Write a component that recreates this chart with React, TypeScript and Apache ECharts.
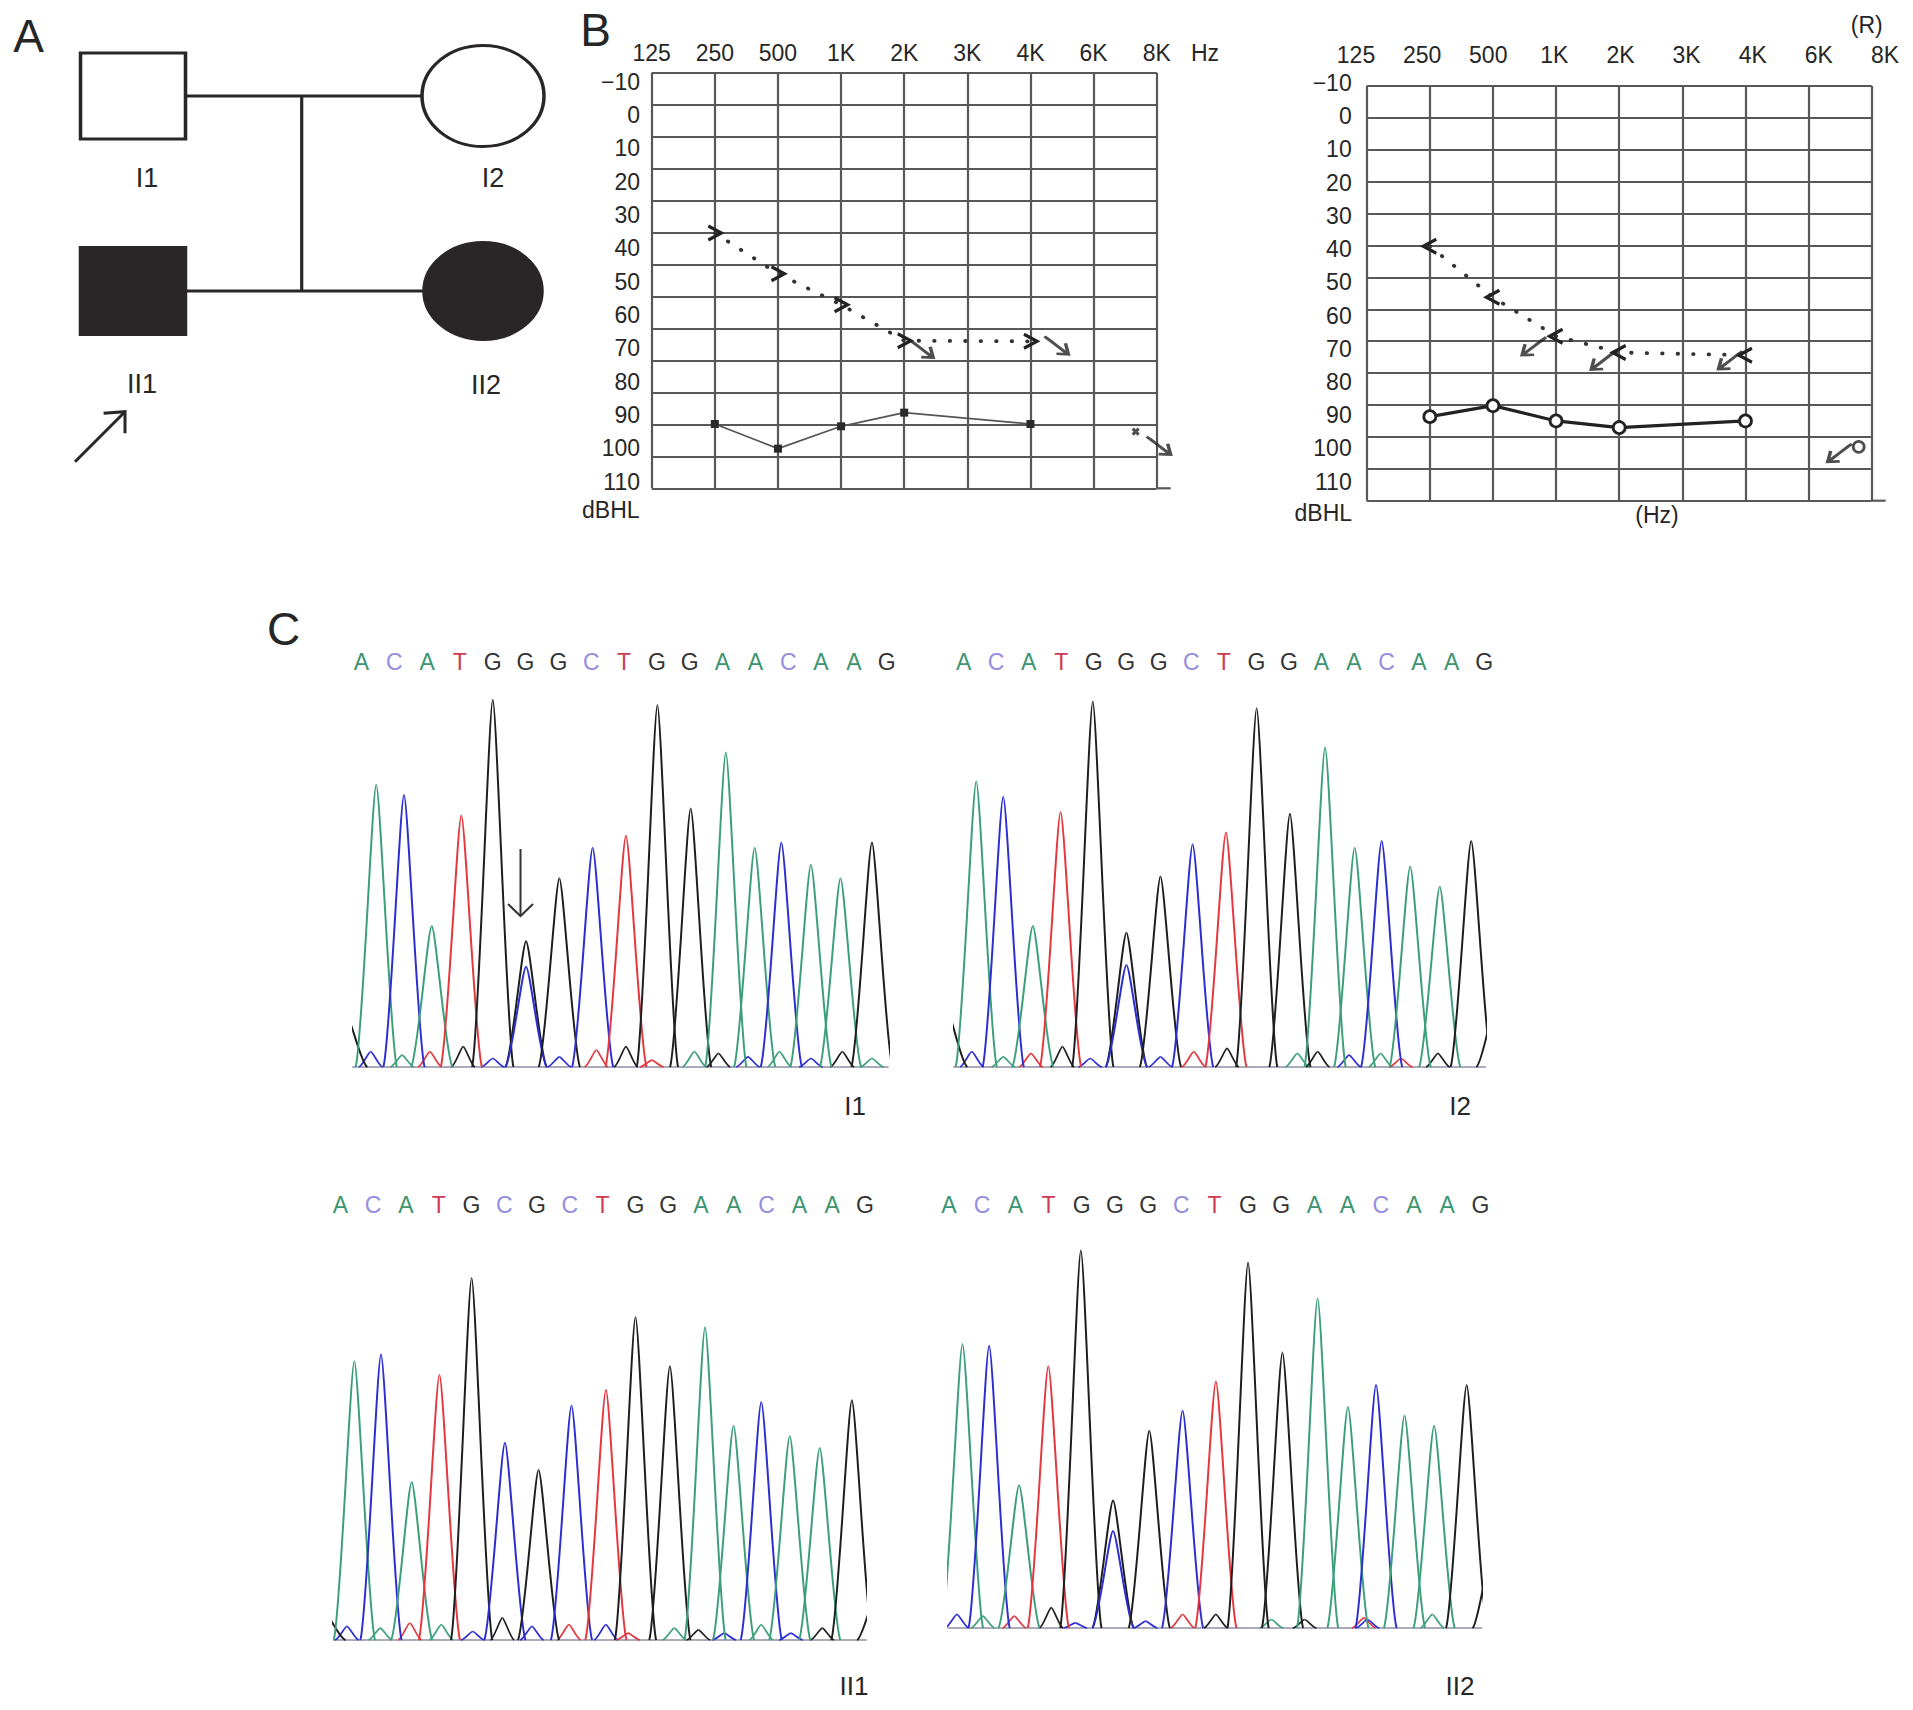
import React, { useEffect, useRef } from 'react';
import * as echarts from 'echarts';

const FONT = '"Liberation Sans", Arial, Helvetica, sans-serif';
const INK = '#2a2627';
const GRID_GRAY = '#585858';
const TEXT = '#262626';

// ---------------- A: pedigree ----------------
const pedNames = ['I1', 'I2', 'II1', 'II2'];
const pedColumn = [0, 1, 0, 1];
const pedGeneration = [1, 1, 2, 2];
const pedSex = ['M', 'F', 'M', 'F'];
const pedAffected = [false, false, true, true];
const pedDescentColumn = 0.482;

// ---------------- B: audiograms ----------------
const freqLabels = ['125', '250', '500', '1K', '2K', '3K', '4K', '6K', '8K'];
const dbLabelMin = -10;
const dbLabelMax = 110;
const dbLabelStep = 10;
const testedFreqIndex = [1, 2, 3, 4, 6];
const leftAir = [92.7, 100.1, 93.4, 89.3, 92.7];
const leftBone = [35.4, 47.6, 56.9, 67.7, 67.9];
const leftBoneNoResponse = [false, false, false, true, true];
const leftAir8kNoResponse = 95;
const rightAir = [90.4, 87.1, 91.7, 93.7, 91.7];
const rightBone = [39.1, 54.5, 66.2, 71.1, 71.9];
const rightBoneNoResponse = [false, false, true, true, true];
const rightAir8kNoResponse = 99.5;

// ---------------- C: chromatograms ----------------
const seqI1 = ['A', 'C', 'A', 'T', 'G', 'G', 'G', 'C', 'T', 'G', 'G', 'A', 'A', 'C', 'A', 'A', 'G'];
const seqI2 = ['A', 'C', 'A', 'T', 'G', 'G', 'G', 'C', 'T', 'G', 'G', 'A', 'A', 'C', 'A', 'A', 'G'];
const seqII1 = ['A', 'C', 'A', 'T', 'G', 'C', 'G', 'C', 'T', 'G', 'G', 'A', 'A', 'C', 'A', 'A', 'G'];
const seqII2 = ['A', 'C', 'A', 'T', 'G', 'G', 'G', 'C', 'T', 'G', 'G', 'A', 'A', 'C', 'A', 'A', 'G'];

const peakPosI1 = [45, 125, 200, 275, 355, 440, 530, 530, 620, 710, 800, 885, 975, 1070, 1148, 1220, 1300, 1380, 1465];
const peakHeightI1 = [150, 830, 800, 415, 740, 1080, 370, 295, 555, 645, 680, 1065, 760, 925, 645, 660, 595, 555, 660];
const peakBaseI1 = ['G', 'A', 'C', 'A', 'T', 'G', 'G', 'C', 'G', 'C', 'T', 'G', 'G', 'A', 'A', 'C', 'A', 'A', 'G'];
const noisePosI1 = [110, 195, 270, 360, 440, 620, 720, 800, 870, 985, 1050, 1130, 1215, 1300, 1385, 1465];
const noiseHeightI1 = [45, 35, 45, 60, 25, 30, 50, 60, 20, 45, 40, 30, 45, 25, 45, 25];
const noiseBaseI1 = ['C', 'A', 'T', 'G', 'C', 'C', 'T', 'G', 'T', 'A', 'G', 'C', 'A', 'C', 'G', 'A'];

const peakPosI2 = [72, 152, 225, 305, 380, 467, 558, 558, 650, 737, 827, 910, 1000, 1095, 1175, 1248, 1325, 1405, 1490, 1560];
const peakHeightI2 = [170, 840, 795, 415, 750, 1075, 395, 300, 560, 655, 690, 1055, 745, 940, 645, 665, 590, 530, 665, 200];
const peakBaseI2 = ['G', 'A', 'C', 'A', 'T', 'G', 'G', 'C', 'G', 'C', 'T', 'G', 'G', 'A', 'A', 'C', 'A', 'A', 'G', 'G'];
const noisePosI2 = [140, 225, 300, 385, 460, 650, 740, 830, 1020, 1075, 1160, 1245, 1300, 1400];
const noiseHeightI2 = [45, 30, 40, 60, 25, 30, 45, 55, 40, 45, 35, 40, 25, 40];
const noiseBaseI2 = ['C', 'A', 'T', 'G', 'C', 'C', 'T', 'G', 'A', 'G', 'C', 'A', 'T', 'G'];

const peakPosII1 = [40, 120, 192, 275, 350, 437, 527, 618, 707, 800, 880, 973, 1068, 1145, 1220, 1297, 1378, 1465, 1535];
const peakHeightII1 = [80, 820, 840, 465, 780, 1065, 580, 500, 690, 735, 950, 805, 920, 630, 700, 600, 565, 705, 150];
const peakBaseII1 = ['G', 'A', 'C', 'A', 'T', 'G', 'C', 'G', 'C', 'T', 'G', 'G', 'A', 'A', 'C', 'A', 'A', 'G', 'G'];
const noisePosII1 = [100, 190, 270, 355, 440, 520, 600, 700, 800, 860, 985, 1050, 1120, 1220, 1300, 1385];
const noiseHeightII1 = [40, 35, 50, 45, 25, 65, 40, 45, 45, 20, 35, 30, 20, 45, 20, 35];
const noiseBaseII1 = ['C', 'A', 'T', 'A', 'C', 'G', 'C', 'T', 'C', 'T', 'A', 'G', 'C', 'A', 'C', 'G'];

const peakPosII2 = [115, 187, 268, 347, 435, 522, 522, 620, 710, 800, 887, 980, 1075, 1157, 1233, 1310, 1390, 1478, 1550];
const peakHeightII2 = [835, 830, 420, 770, 1110, 375, 285, 580, 640, 725, 1075, 810, 970, 650, 715, 625, 595, 715, 250];
const peakBaseII2 = ['A', 'C', 'A', 'T', 'G', 'G', 'C', 'G', 'C', 'T', 'G', 'G', 'A', 'A', 'C', 'A', 'A', 'G', 'G'];
const noisePosII2 = [100, 170, 255, 355, 420, 610, 710, 800, 950, 1040, 1200, 1210, 1385];
const noiseHeightII2 = [40, 35, 35, 60, 15, 20, 40, 40, 25, 25, 30, 25, 40];
const noiseBaseII2 = ['C', 'A', 'T', 'G', 'C', 'C', 'T', 'G', 'A', 'G', 'T', 'C', 'A'];

// ---------------- styles / layout ----------------
const BASE_INDEX: Record<string, number> = { A: 0, C: 1, G: 2, T: 3 };
const TRACE_COLORS = ['#3d9f7a', '#2c2ed2', '#1e1e1e', '#e4383f'];
const LETTER_COLORS: Record<string, string> = { A: '#3c9470', C: '#958ee0', G: '#333333', T: '#cf3a50' };

const CHEV_R = 'path://M0,0 L13,7 L0,14';
const CHEV_L = 'path://M13,0 L0,7 L13,14';
const ARROW_DR = 'path://M0,0 L24,18 M3,2 L21,16 M12,17.5 L24,18 L21,7';
const ARROW_DL = 'path://M24,0 L0,18 M21,2 L3,16 M3,7 L0,18 L12,17.5';
const CROSS = 'path://M0,0 L6,6 M0,6 L6,0';
const ELLIPSE = 'path://M0,50 A50,50 0 1 1 100,50 A50,50 0 1 1 0,50 Z';

const pedStyle: Record<string, { size: number[]; dist: number; dx: number }> = {
  I1: { size: [105, 86], dist: 24, dx: 14 },
  I2: { size: [122, 101], dist: 17, dx: 10 },
  II1: { size: [105, 87], dist: 35, dx: 9 },
  II2: { size: [118, 97], dist: 31, dx: 3 },
};

const AUD_L = {
  left: 651.7, top: 72.7, width: 505, height: 415.6, yMin: -12.7, yMax: 112,
  labTop: 81.7, labH: 400, labMargin: 11.7,
  arrowOffsets: { 4: [17, 8], 6: [26, 4] } as Record<number, number[]>,
  mark8kOffset: [-21, 0], arrow8kOffset: [2, 14],
};
const AUD_R = {
  left: 1366.7, top: 86, width: 505, height: 414.7, yMin: -9.1, yMax: 115.7,
  labTop: 83, labH: 398.7, labMargin: 15,
  arrowOffsets: { 3: [-22, 10], 4: [-16, 8], 6: [-15, 5] } as Record<number, number[]>,
  mark8kOffset: [-13, 0], arrow8kOffset: [-32, 6],
};

const PANELS = [
  { name: 'I1', seq: seqI1, pos: peakPosI1, h: peakHeightI1, base: peakBaseI1, nPos: noisePosI1, nH: noiseHeightI1, nBase: noiseBaseI1,
    scanStart: 60, scanEnd: 1510, left: 352.2, right: 888.6, baseline: 1067, letterLeft: 361.4, letterRight: 886.7, letterY: 662, labelX: 855, labelY: 1106 },
  { name: 'I2', seq: seqI2, pos: peakPosI2, h: peakHeightI2, base: peakBaseI2, nPos: noisePosI2, nH: noiseHeightI2, nBase: noiseBaseI2,
    scanStart: 90, scanEnd: 1530, left: 953.3, right: 1486, baseline: 1067, letterLeft: 963.6, letterRight: 1484.1, letterY: 662, labelX: 1460, labelY: 1106 },
  { name: 'II1', seq: seqII1, pos: peakPosII1, h: peakHeightII1, base: peakBaseII1, nPos: noisePosII1, nH: noiseHeightII1, nBase: noiseBaseII1,
    scanStart: 62, scanEnd: 1505, left: 332.9, right: 866.7, baseline: 1640, letterLeft: 340.3, letterRight: 864.9, letterY: 1205, labelX: 854, labelY: 1686 },
  { name: 'II2', seq: seqII2, pos: peakPosII2, h: peakHeightII2, base: peakBaseII2, nPos: noisePosII2, nH: noiseHeightII2, nBase: noiseBaseII2,
    scanStart: 75, scanEnd: 1520, left: 947.7, right: 1482.2, baseline: 1628, letterLeft: 948.9, letterRight: 1480.4, letterY: 1205, labelX: 1460, labelY: 1686 },
];
const TRACE_PX_PER_UNIT = 0.34;
const TRACE_YMAX = 1200;
const TRACE_YMIN = -20;

function peakRenderer(halfWidth: number, lineWidth: number) {
  return function (_params: any, api: any) {
    const x = api.value(0);
    const h = api.value(1);
    const b = api.value(2);
    const c = (px: number, py: number) => api.coord([px, py]);
    const a0 = c(x - halfWidth, 0);
    const a1 = c(x - halfWidth * 0.7, h * 0.05);
    const a2 = c(x - halfWidth * 0.18, h);
    const top = c(x, h);
    const b1 = c(x + halfWidth * 0.18, h);
    const b2 = c(x + halfWidth * 0.7, h * 0.05);
    const b3 = c(x + halfWidth, 0);
    const style = { stroke: TRACE_COLORS[b], fill: 'none', lineWidth };
    return {
      type: 'group',
      children: [
        { type: 'bezierCurve', shape: { x1: a0[0], y1: a0[1], cpx1: a1[0], cpy1: a1[1], cpx2: a2[0], cpy2: a2[1], x2: top[0], y2: top[1] }, style },
        { type: 'bezierCurve', shape: { x1: top[0], y1: top[1], cpx1: b1[0], cpy1: b1[1], cpx2: b2[0], cpy2: b2[1], x2: b3[0], y2: b3[1] }, style },
      ],
    };
  };
}

function buildOption() {
  const grid: any[] = [];
  const xAxis: any[] = [];
  const yAxis: any[] = [];
  const series: any[] = [];
  const graphic: any[] = [];

  const addGrid = (g: any) => { grid.push({ outerBoundsMode: 'none', containLabel: false, ...g }); return grid.length - 1; };
  const addX = (a: any) => { xAxis.push(a); return xAxis.length - 1; };
  const addY = (a: any) => { yAxis.push(a); return yAxis.length - 1; };
  const hidden = (gridIndex: number, min: number, max: number, extra: any = {}) => ({ type: 'value', gridIndex, min, max, show: false, ...extra });
  const txt = (t: string, x: number, y: number, size: number, extra: any = {}) => ({
    type: 'text', x, y, silent: true, z: 10,
    style: { text: t, fill: TEXT, fontSize: size, fontFamily: FONT, align: 'center', verticalAlign: 'middle', textAlign: 'center', textVerticalAlign: 'middle', ...extra },
  });
  const seg = (x1: number, y1: number, x2: number, y2: number, color: string, w: number) => ({
    type: 'line', silent: true, z: 10, shape: { x1, y1, x2, y2 }, style: { stroke: color, lineWidth: w },
  });
  const labelStyle = { fontSize: 23, color: TEXT, fontFamily: FONT };

  // ---------- A: pedigree ----------
  const gP = addGrid({ left: 133, top: 96, width: 350, height: 195 });
  const xP = addX(hidden(gP, 0, 1));
  const yP = addY(hidden(gP, 1, 2, { inverse: true }));
  const pedLine = (data: number[][]) => ({
    type: 'line', xAxisIndex: xP, yAxisIndex: yP, data, symbol: 'none', clip: false, silent: true, z: 1,
    lineStyle: { color: INK, width: 3.2 },
  });
  series.push(pedLine([[pedColumn[0], pedGeneration[0]], [pedColumn[1], pedGeneration[1]]]));
  series.push(pedLine([[pedColumn[2], pedGeneration[2]], [pedColumn[3], pedGeneration[3]]]));
  series.push(pedLine([[pedDescentColumn, pedGeneration[0]], [pedDescentColumn, pedGeneration[2]]]));
  series.push({
    type: 'scatter', xAxisIndex: xP, yAxisIndex: yP, clip: false, silent: true, z: 3,
    data: pedNames.map((n, i) => ({
      name: n,
      value: [pedColumn[i], pedGeneration[i]],
      symbol: pedSex[i] === 'M' ? 'rect' : ELLIPSE,
      symbolSize: pedStyle[n].size,
      itemStyle: { color: pedAffected[i] ? INK : '#ffffff', borderColor: INK, borderWidth: 3.2, opacity: 1 },
      label: {
        show: true, position: 'bottom', distance: pedStyle[n].dist, offset: [pedStyle[n].dx, 0],
        formatter: '{b}', fontSize: 27, color: TEXT, fontFamily: FONT,
      },
    })),
  });
  graphic.push(txt('A', 28.5, 36, 46));
  graphic.push(seg(75, 461.7, 125, 411.7, INK, 3));
  graphic.push({ type: 'polyline', silent: true, z: 10, shape: { points: [[103.6, 413.3], [125, 411.7], [125, 433.3]] }, style: { stroke: INK, lineWidth: 3, fill: 'none' } });

  // ---------- B: audiograms ----------
  const addAudiogram = (L: any, side: 'L' | 'R', air: number[], bone: number[], boneNR: boolean[], air8k: number) => {
    const gMain = addGrid({ left: L.left, top: L.top, width: L.width, height: L.height });
    const xMain = addX({
      type: 'value', gridIndex: gMain, min: 0, max: 8, interval: 1, position: 'top',
      axisLine: { show: false }, axisTick: { show: false },
      axisLabel: side === 'L'
        ? { show: true, margin: 19.4, verticalAlign: 'middle', showMinLabel: true, showMaxLabel: true, hideOverlap: false,
            formatter: (v: number) => freqLabels[Math.round(v)], ...labelStyle }
        : { show: false },
      splitLine: { show: true, showMinLine: true, showMaxLine: true, lineStyle: { color: GRID_GRAY, width: 2.2 } },
    });
    const yData = addY(hidden(gMain, L.yMin, L.yMax, { inverse: true }));
    addY({
      type: 'value', gridIndex: gMain, min: 0, max: 13, interval: 1, position: 'right',
      axisLine: { show: false }, axisTick: { show: false }, axisLabel: { show: false },
      splitLine: { show: true, showMinLine: true, showMaxLine: true, lineStyle: { color: GRID_GRAY, width: 2.2 } },
    });
    // y labels
    const gLab = addGrid({ left: L.left, top: L.labTop, width: L.width, height: L.labH });
    addX(hidden(gLab, 0, 1));
    addY({
      type: 'value', gridIndex: gLab, min: dbLabelMin, max: dbLabelMax, interval: dbLabelStep, inverse: true,
      axisLine: { show: false }, axisTick: { show: false }, splitLine: { show: false },
      axisLabel: { show: true, margin: L.labMargin, showMinLabel: true, showMaxLabel: true, hideOverlap: false,
        formatter: (v: number) => (v < 0 ? '\u2212' + Math.abs(v) : String(v)), ...labelStyle },
    });
    if (side === 'R') {
      const gX = addGrid({ left: 1356, top: L.top, width: 529, height: L.height });
      addX({
        type: 'value', gridIndex: gX, min: 0, max: 8, interval: 1, position: 'top',
        axisLine: { show: false }, axisTick: { show: false }, splitLine: { show: false },
        axisLabel: { show: true, margin: 31, verticalAlign: 'middle', showMinLabel: true, showMaxLabel: true, hideOverlap: false,
          formatter: (v: number) => freqLabels[Math.round(v)], ...labelStyle },
      });
      addY(hidden(gX, 0, 1));
    }

    const dark = '#222222';
    series.push({
      type: 'line', xAxisIndex: xMain, yAxisIndex: yData, clip: false, silent: true, z: 5,
      data: testedFreqIndex.map((f, i) => [f, air[i]]),
      symbol: side === 'L' ? 'rect' : 'circle',
      symbolSize: side === 'L' ? 8 : 12,
      itemStyle: side === 'L' ? { color: '#2a2a2a' } : { color: '#ffffff', borderColor: dark, borderWidth: 2.8 },
      lineStyle: { color: side === 'L' ? '#555' : dark, width: side === 'L' ? 1.7 : 3.2 },
    });
    series.push({
      type: 'line', xAxisIndex: xMain, yAxisIndex: yData, clip: false, silent: true, z: 5,
      data: testedFreqIndex.map((f, i) => [f, bone[i]]),
      symbol: side === 'L' ? CHEV_R : CHEV_L,
      symbolSize: [13, 14],
      itemStyle: { color: 'rgba(0,0,0,0)', borderColor: dark, borderWidth: 3.2 },
      lineStyle: { color: '#333', width: 3.8, type: [0.5, 15], cap: 'round' },
    });
    const arrowSym = side === 'L' ? ARROW_DR : ARROW_DL;
    const nrData: any[] = [];
    testedFreqIndex.forEach((f, i) => {
      if (boneNR[i]) nrData.push({ value: [f, bone[i]], symbolOffset: L.arrowOffsets[f] || [0, 0] });
    });
    series.push({
      type: 'scatter', xAxisIndex: xMain, yAxisIndex: yData, clip: false, silent: true, z: 6,
      symbol: arrowSym, symbolSize: [24, 18],
      itemStyle: { color: 'rgba(0,0,0,0)', borderColor: dark, borderWidth: 3 },
      data: nrData,
    });
    series.push({
      type: 'scatter', xAxisIndex: xMain, yAxisIndex: yData, clip: false, silent: true, z: 6,
      data: [
        side === 'L'
          ? { value: [8, air8k], symbol: CROSS, symbolSize: [6, 6], symbolOffset: L.mark8kOffset, itemStyle: { color: 'rgba(0,0,0,0)', borderColor: dark, borderWidth: 3 } }
          : { value: [8, air8k], symbol: 'circle', symbolSize: 11, symbolOffset: L.mark8kOffset, itemStyle: { color: '#fff', borderColor: dark, borderWidth: 2.8 } },
        { value: [8, air8k], symbol: arrowSym, symbolSize: [24, 18], symbolOffset: L.arrow8kOffset, itemStyle: { color: 'rgba(0,0,0,0)', borderColor: dark, borderWidth: 3 } },
      ],
    });
    // axis line extension past the last column
    graphic.push(seg(L.left + L.width, L.top + L.height, L.left + L.width + 14, L.top + L.height, GRID_GRAY, 2.2));
  };
  addAudiogram(AUD_L, 'L', leftAir, leftBone, leftBoneNoResponse, leftAir8kNoResponse);
  addAudiogram(AUD_R, 'R', rightAir, rightBone, rightBoneNoResponse, rightAir8kNoResponse);
  graphic.push(txt('B', 595.5, 30, 46));
  graphic.push(txt('Hz', 1205, 53.3, 23));
  graphic.push(txt('(R)', 1866.7, 25, 23));
  graphic.push(txt('(Hz)', 1657, 515, 23));
  graphic.push(txt('dBHL', 610.8, 510, 23));
  graphic.push(txt('dBHL', 1323.3, 513.3, 23));

  // ---------- C: chromatograms ----------
  const rich: Record<string, any> = {};
  Object.keys(LETTER_COLORS).forEach((k) => { rich[k] = { color: LETTER_COLORS[k], fontSize: 23, fontFamily: FONT }; });
  PANELS.forEach((p) => {
    const gT = addGrid({
      left: p.left, width: p.right - p.left,
      top: p.baseline - TRACE_YMAX * TRACE_PX_PER_UNIT,
      height: (TRACE_YMAX - TRACE_YMIN) * TRACE_PX_PER_UNIT,
    });
    const xT = addX(hidden(gT, p.scanStart, p.scanEnd));
    const yT = addY(hidden(gT, TRACE_YMIN, TRACE_YMAX));
    series.push({
      type: 'line', xAxisIndex: xT, yAxisIndex: yT, silent: true, symbol: 'none', z: 2,
      data: [[p.scanStart, 0], [p.scanEnd, 0]],
      lineStyle: { color: '#585878', width: 1.2 },
    });
    series.push({
      type: 'custom', xAxisIndex: xT, yAxisIndex: yT, silent: true, clip: true, z: 3,
      renderItem: peakRenderer(32, 1.7),
      data: p.nPos.map((x, i) => [x, p.nH[i], BASE_INDEX[p.nBase[i]]]),
    });
    series.push({
      type: 'custom', xAxisIndex: xT, yAxisIndex: yT, silent: true, clip: true, z: 4,
      renderItem: peakRenderer(56, 2),
      data: p.pos.map((x, i) => [x, p.h[i], BASE_INDEX[p.base[i]]]),
    });
    const gL = addGrid({ left: p.letterLeft, width: p.letterRight - p.letterLeft, top: p.letterY, height: 10 });
    addX({
      type: 'category', gridIndex: gL, data: p.seq, boundaryGap: false, position: 'top',
      axisLine: { show: false }, axisTick: { show: false }, splitLine: { show: false },
      axisLabel: { show: true, interval: 0, margin: 0, verticalAlign: 'middle', hideOverlap: false,
        formatter: (v: string) => `{${v}|${v}}`, rich },
    });
    addY(hidden(gL, 0, 1));
    graphic.push(txt(p.name, p.labelX, p.labelY, 26));
  });
  graphic.push(txt('C', 283.5, 628.5, 46));
  // arrow marking the heterozygous position in I1
  graphic.push(seg(520.5, 849, 520.5, 916, '#333', 2));
  graphic.push({ type: 'polyline', silent: true, z: 10, shape: { points: [[508, 904], [520.5, 916], [533, 904]] }, style: { stroke: '#333', lineWidth: 2, fill: 'none' } });

  return {
    animation: false,
    backgroundColor: '#ffffff',
    textStyle: { fontFamily: FONT },
    grid, xAxis, yAxis, series, graphic,
  };
}

export default function App() {
  const ref = useRef<HTMLDivElement>(null);
  useEffect(() => {
    if (!ref.current) return;
    const chart = echarts.init(ref.current, undefined, { renderer: 'svg' });
    chart.setOption(buildOption() as any);
    return () => chart.dispose();
  }, []);
  return (
    <div
      ref={ref}
      style={{ position: 'absolute', left: 0, top: 0, width: 1913, height: 1710, background: '#ffffff' }}
    />
  );
}
